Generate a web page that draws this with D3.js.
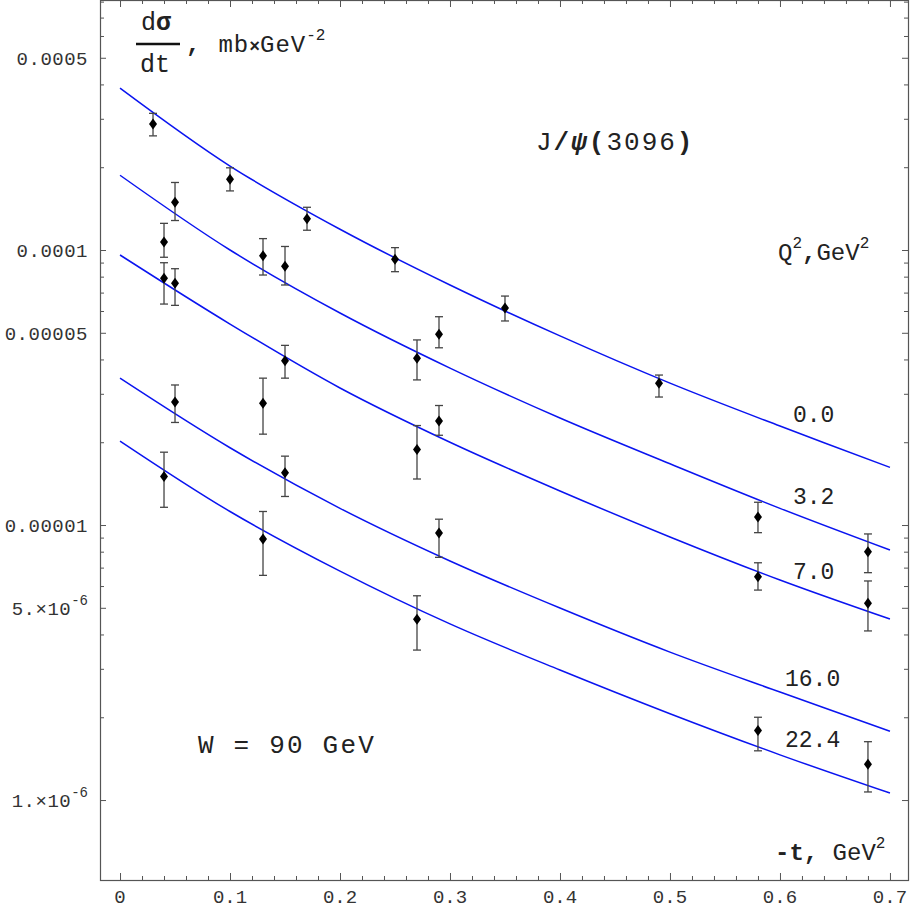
<!DOCTYPE html>
<html>
<head>
<meta charset="utf-8">
<script src="https://cdn.jsdelivr.net/npm/d3@7"></script>
<style>
body { margin: 0; background: #fff; }
text { font-family: "Liberation Mono", "DejaVu Sans Mono", monospace; }
</style>
</head>
<body>
<div id="chart"></div>
<script>
// -t grid of the model curves, GeV^2
const curve_t = [0, 0.1, 0.2, 0.3, 0.4, 0.5, 0.6, 0.7];
// Q^2 of each curve, GeV^2
const q2_labels = ["0.0", "3.2", "7.0", "16.0", "22.4"];
// model dsigma/dt, mb*GeV^-2, one array per Q^2
const curve_q00 = [3.88e-4, 2.02e-4, 1.19e-4, 7.46e-5, 4.87e-5, 3.28e-5, 2.29e-5, 1.62e-5];
const curve_q32 = [1.87e-4, 1.00e-4, 5.90e-5, 3.72e-5, 2.45e-5, 1.67e-5, 1.15e-5, 8.11e-6];
const curve_q70 = [9.59e-5, 5.38e-5, 3.15e-5, 2.00e-5, 1.33e-5, 9.05e-6, 6.31e-6, 4.55e-6];
const curve_q160 = [3.42e-5, 1.91e-5, 1.15e-5, 7.40e-6, 4.99e-6, 3.45e-6, 2.47e-6, 1.78e-6];
const curve_q224 = [2.02e-5, 1.12e-5, 6.80e-6, 4.37e-6, 2.97e-6, 2.06e-6, 1.46e-6, 1.06e-6];

// measured points: -t, value, error bar low and high
const point_t = [0.03, 0.04, 0.04, 0.04, 0.05, 0.05, 0.05, 0.10, 0.13, 0.13,
                 0.13, 0.15, 0.15, 0.15, 0.17, 0.25, 0.27, 0.27, 0.27, 0.29,
                 0.29, 0.29, 0.35, 0.49, 0.58, 0.58, 0.58, 0.68, 0.68, 0.68];
const point_v = [2.87e-4, 1.07e-4, 7.89e-5, 1.50e-5, 1.49e-4, 7.57e-5, 2.80e-5, 1.81e-4, 9.53e-5, 2.77e-5,
                 8.89e-6, 8.72e-5, 3.96e-5, 1.55e-5, 1.30e-4, 9.25e-5, 4.04e-5, 1.88e-5, 4.54e-6, 4.94e-5,
                 2.39e-5, 9.35e-6, 6.15e-5, 3.28e-5, 1.07e-5, 6.49e-6, 1.79e-6, 8.00e-6, 5.19e-6, 1.35e-6];
const point_lo = [2.60e-4, 9.41e-5, 6.36e-5, 1.16e-5, 1.28e-4, 6.29e-5, 2.36e-5, 1.64e-4, 8.11e-5, 2.14e-5,
                  6.56e-6, 7.46e-5, 3.42e-5, 1.27e-5, 1.18e-4, 8.34e-5, 3.37e-5, 1.47e-5, 3.51e-6, 4.41e-5,
                  2.12e-5, 7.63e-6, 5.52e-5, 2.92e-5, 9.38e-6, 5.80e-6, 1.51e-6, 6.71e-6, 4.12e-6, 1.07e-6];
const point_hi = [3.14e-4, 1.25e-4, 8.99e-5, 1.84e-5, 1.76e-4, 8.55e-5, 3.23e-5, 1.99e-4, 1.10e-4, 3.42e-5,
                  1.12e-5, 1.03e-4, 4.50e-5, 1.78e-5, 1.43e-4, 1.02e-4, 4.71e-5, 2.30e-5, 5.53e-6, 5.72e-5,
                  2.72e-5, 1.05e-5, 6.80e-5, 3.51e-5, 1.21e-5, 7.29e-6, 2.00e-6, 9.28e-6, 6.26e-6, 1.63e-6];

// axis ticks and labels
const x_ticks = [0, 0.1, 0.2, 0.3, 0.4, 0.5, 0.6, 0.7];
const x_labels = ["0", "0.1", "0.2", "0.3", "0.4", "0.5", "0.6", "0.7"];
const y_ticks = [1e-6, 5e-6, 1e-5, 5e-5, 1e-4, 5e-4];
const y_label_base = ["1.\u00d710", "5.\u00d710", "0.00001", "0.00005", "0.0001", "0.0005"];
const y_label_exp = ["-6", "-6", "", "", "", ""];

// Layout
const width = 910, height = 910;
const m_left = 100, m_right = 908, m_top = 0, m_bottom = 880;
const frame_color = "#555";
const curve_series = [curve_q00, curve_q32, curve_q70, curve_q160, curve_q224];
const curve_label_pos = [[793, 422], [793, 504], [793, 579], [785, 686], [785, 747]];

const svg = d3.select('#chart')
              .append('svg')
              .attr('width', width)
              .attr('height', height);

const x = d3.scaleLinear().domain([-0.0182, 0.7164]).range([m_left, m_right]);
const y = d3.scaleLog().domain([5.12e-7, 8.11e-4]).range([m_bottom, m_top]);

// minor tick values
const x_minor = d3.range(0, 0.7001, 0.02).filter(v => Math.abs(v * 10 - Math.round(v * 10)) > 1e-6);
let y_minor = [];
[1e-6, 1e-5, 1e-4].forEach(d => {
    for (let k = 2; k <= 9; ++k) {
        const v = d * k;
        if (v < y.domain()[1] && k != 5) y_minor.push(v);
    }
});

// Draw ticks with d3 axes, pointing inside the frame
function drawAxis(axis, tx, ty) {
    const g = svg.append('g')
                 .attr('transform', `translate(${tx},${ty})`)
                 .call(axis);
    g.select('.domain').remove();
    g.selectAll('line').attr('stroke', frame_color).attr('stroke-width', 1);
    g.selectAll('text').remove();
}
drawAxis(d3.axisBottom(x).tickValues(x_ticks).tickSize(-7), 0, m_bottom);
drawAxis(d3.axisBottom(x).tickValues(x_minor).tickSize(-4), 0, m_bottom);
drawAxis(d3.axisTop(x).tickValues(x_ticks).tickSize(-7), 0, m_top);
drawAxis(d3.axisTop(x).tickValues(x_minor).tickSize(-4), 0, m_top);
drawAxis(d3.axisLeft(y).tickValues(y_ticks).tickSize(-6), m_left, 0);
drawAxis(d3.axisLeft(y).tickValues(y_minor).tickSize(-4), m_left, 0);
drawAxis(d3.axisRight(y).tickValues(y_ticks).tickSize(-6), m_right, 0);
drawAxis(d3.axisRight(y).tickValues(y_minor).tickSize(-4), m_right, 0);

// Frame
svg.append('rect')
   .attr('x', m_left + 0.5)
   .attr('y', m_top + 0.5)
   .attr('width', m_right - m_left)
   .attr('height', m_bottom - m_top)
   .attr('fill', 'none')
   .attr('stroke', frame_color)
   .attr('stroke-width', 1.2);

// Tick labels
svg.selectAll('.xlab')
   .data(x_ticks)
   .enter().append('text')
   .attr('x', d => x(d))
   .attr('y', 903)
   .attr('text-anchor', 'middle')
   .attr('font-size', 19)
   .attr('fill', '#333')
   .text((d, i) => x_labels[i]);

y_ticks.forEach((v, i) => {
    const t = svg.append('text')
                 .attr('x', 88)
                 .attr('y', y(v) + 7)
                 .attr('text-anchor', 'end')
                 .attr('font-size', 19)
                 .attr('letter-spacing', 0.5)
                 .attr('fill', '#333');
    t.append('tspan').text(y_label_base[i]);
    if (y_label_exp[i])
        t.append('tspan').attr('font-size', 14).attr('dy', -10).attr('letter-spacing', 0).text(y_label_exp[i]);
});

// Model curves
const line = d3.line()
               .x((d, i) => x(curve_t[i]))
               .y(d => y(d))
               .curve(d3.curveCatmullRom);
svg.selectAll('.curve')
   .data(curve_series)
   .enter().append('path')
   .attr('d', line)
   .attr('fill', 'none')
   .attr('stroke', '#0a14f0')
   .attr('stroke-width', 1.5);

// Curve labels
q2_labels.forEach((s, i) => {
    svg.append('text')
       .attr('x', curve_label_pos[i][0])
       .attr('y', curve_label_pos[i][1])
       .attr('font-size', 23)
       .attr('fill', '#222')
       .text(s);
});

// Error bars and diamonds
const pts = point_t.map((t, i) => ({t: t, v: point_v[i], lo: point_lo[i], hi: point_hi[i]}));
const bars = svg.append('g').attr('stroke', '#444').attr('stroke-width', 1.3);
pts.forEach(p => {
    const px = x(p.t);
    bars.append('line').attr('x1', px).attr('x2', px).attr('y1', y(p.hi)).attr('y2', y(p.lo));
    bars.append('line').attr('x1', px - 4).attr('x2', px + 4).attr('y1', y(p.hi)).attr('y2', y(p.hi));
    bars.append('line').attr('x1', px - 4).attr('x2', px + 4).attr('y1', y(p.lo)).attr('y2', y(p.lo));
});
svg.selectAll('.pt')
   .data(pts)
   .enter().append('path')
   .attr('d', 'M0,-5.5L4,0L0,5.5L-4,0Z')
   .attr('transform', d => `translate(${x(d.t)},${y(d.v)})`)
   .attr('fill', '#000');

// Axis titles and annotations
const dsig = svg.append('text').attr('x', 141).attr('y', 30).attr('font-size', 25).attr('fill', '#222');
dsig.append('tspan').text('d');
dsig.append('tspan').attr('font-weight', 'bold').text('\u03c3');
svg.append('line')
   .attr('x1', 136).attr('x2', 180).attr('y1', 44).attr('y2', 44)
   .attr('stroke', '#111').attr('stroke-width', 2.5);
svg.append('text').attr('x', 140).attr('y', 72).attr('font-size', 25).attr('fill', '#222').text('dt');
const unit = svg.append('text').attr('x', 186).attr('y', 52).attr('font-size', 24).attr('fill', '#222');
unit.append('tspan').attr('font-weight', 'bold').text(',');
unit.append('tspan').attr('dx', 18).attr('letter-spacing', 1).text('mb');
unit.append('tspan').attr('font-weight', 'bold').attr('font-size', 18).text('\u00d7');
unit.append('tspan').attr('letter-spacing', 1).text('GeV');
unit.append('tspan').attr('font-size', 16).attr('dy', -12).text('-2');

const jpsi = svg.append('text').attr('x', 536).attr('y', 150).attr('font-size', 26)
                .attr('letter-spacing', 2).attr('fill', '#222');
jpsi.append('tspan').text('J');
jpsi.append('tspan').attr('font-weight', 'bold').text('/');
jpsi.append('tspan').attr('font-weight', 'bold').attr('font-style', 'italic').text('\u03c8');
jpsi.append('tspan').attr('font-weight', 'bold').text('(');
jpsi.append('tspan').text('3096');
jpsi.append('tspan').attr('font-weight', 'bold').text(')');

const q2 = svg.append('text').attr('x', 778).attr('y', 260).attr('font-size', 24).attr('fill', '#222');
q2.append('tspan').text('Q');
q2.append('tspan').attr('font-size', 16).attr('dy', -12).text('2');
q2.append('tspan').attr('dy', 12).attr('font-weight', 'bold').text(',');
q2.append('tspan').text('GeV');
q2.append('tspan').attr('font-size', 16).attr('dy', -12).text('2');

svg.append('text').attr('x', 198).attr('y', 753).attr('font-size', 26)
   .attr('letter-spacing', 2.2).attr('fill', '#222')
   .style('white-space', 'pre')
   .text('W = 90 GeV');

const tl = svg.append('text').attr('x', 775).attr('y', 860).attr('font-size', 24).attr('fill', '#222')
              .style('white-space', 'pre');
tl.append('tspan').attr('font-weight', 'bold').text('-t,');
tl.append('tspan').text(' GeV');
tl.append('tspan').attr('font-size', 16).attr('dy', -12).text('2');
</script>
</body>
</html>
